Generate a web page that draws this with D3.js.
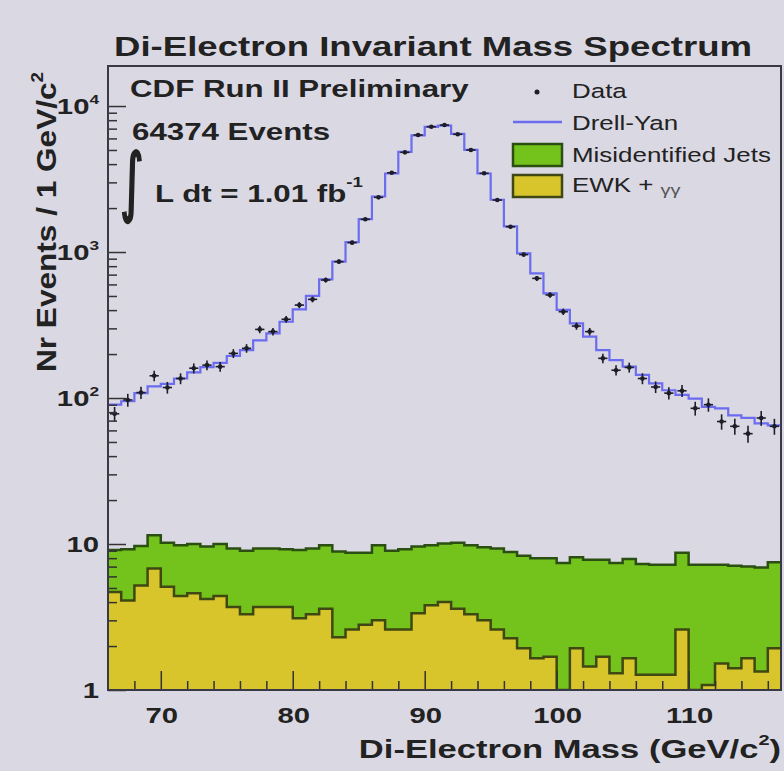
<!DOCTYPE html>
<html>
<head>
<meta charset="utf-8">
<script src="https://cdn.jsdelivr.net/npm/d3@7"></script>
<style>
body { margin: 0; background: #dad8e2; }
svg { display: block; font-family: "Liberation Sans", Arial, Helvetica, sans-serif; }
</style>
</head>
<body>
<script>
// 1 GeV bins, lower edge of each bin
const binLow = [66,67,68,69,70,71,72,73,74,75,76,77,78,79,80,81,82,83,84,85,86,87,88,89,90,
  91,92,93,94,95,96,97,98,99,100,101,102,103,104,105,106,107,108,109,110,111,112,113,114,115,116];

const dataCounts = [78,97,109,142,118,136,160,168,164,202,219,295,285,346,433,474,643,859,1159,1675,
  2368,3490,4815,6330,7220,7410,6400,5000,3460,2270,1490,960,660,508,390,311,285,187,155,162,
  136,119,108,112,85,90,69,64,57,73,64];

const drellYan = [90,95,108,120,125,136,150,163,174,194,213,248,277,333,405,500,650,860,1170,1680,
  2400,3450,4850,6300,7200,7350,6450,5000,3450,2280,1500,980,715,521,401,325,263,213,182,164,
  144,126,113,105,99,87,85,76,73,67,65];

const ewk = [4.7,4.1,5.2,6.8,5.1,4.4,4.6,4.2,4.4,3.7,3.3,3.7,3.7,3.7,3.1,3.3,3.6,2.3,2.6,2.8,
  3.0,2.6,2.6,3.35,3.8,4.0,3.6,3.3,3.0,2.6,2.26,1.93,1.65,1.69,0,1.93,1.45,1.69,1.30,1.65,
  1.27,1.27,1.27,2.6,0,1.08,1.52,1.41,1.65,1.34,1.93];

const misidJets = [4.4,5.1,4.5,4.7,5.1,5.4,5.4,5.4,5.6,5.6,5.7,5.6,5.6,5.5,6.0,6.0,6.2,6.6,6.1,5.9,
  6.8,6.4,6.6,6.25,6.0,6.1,6.6,6.5,6.5,6.7,6.54,6.37,6.35,6.31,7.4,6.17,6.35,6.11,6.1,6.25,
  6.03,5.93,5.93,6.1,7.2,6.12,5.68,5.69,5.35,5.56,5.57];

const xMajor = [70, 80, 90, 100, 110];
const xMinor = [68, 72, 74, 76, 78, 82, 84, 86, 88, 92, 94, 96, 98, 102, 104, 106, 108, 112, 114, 116];
const yMajor = [1, 10, 100, 1000, 10000];
const yTickBase = ['1', '10', '10', '10', '10'];
const yTickExp = ['', '', '2', '3', '4'];

const W = 784, H = 771;
const L = 108, R = 781, T = 66, B = 690;
const SX = 1.33; // the photo is stretched sideways

const svg = d3.select('body').append('svg').attr('width', W).attr('height', H);
svg.append('rect').attr('width', W).attr('height', H).attr('fill', '#dad8e2');

const x = d3.scaleLinear().domain([66, 117]).range([L, R]);
const y = d3.scaleLog().domain([1, 18800]).range([B, T]);
const yv = v => y(Math.max(v, 1));

svg.append('defs').append('clipPath').attr('id', 'plotclip')
  .append('rect').attr('x', L).attr('y', T).attr('width', R - L).attr('height', B - T);
const plot = svg.append('g').attr('clip-path', 'url(#plotclip)');

const rows = binLow.map((m, i) => ({ m, ewk: ewk[i], misid: misidJets[i] }));
const stacked = d3.stack().keys(['ewk', 'misid'])(rows);

function steps(vals) {
  const pts = binLow.map((m, i) => [m, vals[i]]);
  pts.push([x.domain()[1], vals[vals.length - 1]]);
  return pts;
}
const area = d3.area().curve(d3.curveStepAfter).x(d => x(d[0])).y0(B).y1(d => yv(d[1]));
const line = d3.line().curve(d3.curveStepAfter).x(d => x(d[0])).y(d => yv(d[1]));

const totalTop = steps(stacked[1].map(d => d[1]));
const ewkTop = steps(stacked[0].map(d => d[1]));

plot.append('path').attr('d', area(totalTop)).attr('fill', '#74c21c');
plot.append('path').attr('d', area(ewkTop)).attr('fill', '#d8c52c');
plot.append('path').attr('d', line(totalTop)).attr('fill', 'none').attr('stroke', '#2b4f12').attr('stroke-width', 2.5);
plot.append('path').attr('d', line(ewkTop)).attr('fill', 'none').attr('stroke', '#3f4712').attr('stroke-width', 2.5);

// Drell-Yan
plot.append('path').attr('d', line(steps(drellYan)))
  .attr('fill', 'none').attr('stroke', '#6b6cf0').attr('stroke-width', 2.2);

// data points
const pts = plot.selectAll('.dot').data(binLow.map((m, i) => ({ m, n: dataCounts[i] })))
  .enter().append('g').attr('class', 'dot');
pts.append('line')
  .attr('x1', d => x(d.m + 0.5)).attr('x2', d => x(d.m + 0.5))
  .attr('y1', d => yv(d.n - Math.sqrt(d.n))).attr('y2', d => yv(d.n + Math.sqrt(d.n)))
  .attr('stroke', '#1d1d2a').attr('stroke-width', 1.6);
pts.append('line')
  .attr('x1', d => x(d.m + 0.15)).attr('x2', d => x(d.m + 0.85))
  .attr('y1', d => yv(d.n)).attr('y2', d => yv(d.n))
  .attr('stroke', '#1d1d2a').attr('stroke-width', 1.6);
pts.append('circle').attr('cx', d => x(d.m + 0.5)).attr('cy', d => yv(d.n)).attr('r', 2.3).attr('fill', '#1d1d2a');

// ticks (inside the frame)
const axisCol = '#333';
const gx = svg.append('g').attr('transform', `translate(0,${B})`)
  .call(d3.axisBottom(x).tickValues(xMajor).tickSize(-19).tickFormat(''));
const gx2 = svg.append('g').attr('transform', `translate(0,${B})`)
  .call(d3.axisBottom(x).tickValues(xMinor).tickSize(-9).tickFormat(''));
const yMinor = y.ticks().filter(v => !yMajor.includes(v));
const gy = svg.append('g').attr('transform', `translate(${L},0)`)
  .call(d3.axisLeft(y).tickValues(yMajor).tickSize(-18).tickFormat(''));
const gy2 = svg.append('g').attr('transform', `translate(${L},0)`)
  .call(d3.axisLeft(y).tickValues(yMinor).tickSize(-9).tickFormat(''));
[gx, gx2, gy, gy2].forEach(g => {
  g.select('.domain').remove();
  g.selectAll('line').attr('stroke', axisCol).attr('stroke-width', 1.5);
});

svg.append('rect').attr('x', L).attr('y', T).attr('width', R - L).attr('height', B - T)
  .attr('fill', 'none').attr('stroke', '#3a3a44').attr('stroke-width', 2);

// text helper, stretched sideways like the photo
function txt(px, py, size, weight, anchor) {
  return svg.append('g').attr('transform', `translate(${px},${py}) scale(${SX},1)`)
    .append('text').attr('font-size', size).attr('font-weight', weight)
    .attr('text-anchor', anchor || 'start').attr('fill', '#222');
}

// tick labels
xMajor.forEach(v => txt(x(v) + 1, 723, 22, 'bold', 'middle').text(v));
yMajor.forEach((v, i) => {
  const t = txt(99, y(v) + 8, 22, 'bold', 'end');
  t.append('tspan').text(yTickBase[i]);
  if (yTickExp[i]) t.append('tspan').attr('dy', -10).attr('font-size', 13).text(yTickExp[i]);
});

// titles
txt(433, 56, 27.5, 'bold', 'middle').text('Di-Electron Invariant Mass Spectrum');
const xl = txt(781, 758, 26, 'bold', 'end');
xl.append('tspan').text('Di-Electron Mass (GeV/c');
xl.append('tspan').attr('dy', -13).attr('font-size', 15).text('2');
xl.append('tspan').attr('dy', 13).text(')');

const yl = svg.append('text').attr('transform', 'translate(56,222) rotate(-90)')
  .attr('text-anchor', 'middle').attr('font-size', 27).attr('font-weight', 'bold').attr('fill', '#222')
  .attr('textLength', 300).attr('lengthAdjust', 'spacingAndGlyphs');
yl.append('tspan').text('Nr Events / 1 GeV/c');
yl.append('tspan').attr('dy', -13).attr('font-size', 16).text('2');

// labels inside the frame
txt(130, 97, 23.5, 'bold').text('CDF Run II Preliminary');
txt(132, 140, 23.5, 'bold').text('64374 Events');
svg.append('text').attr('transform', 'translate(120,207) scale(0.9,1.5)')
  .attr('font-family', 'DejaVu Sans').attr('font-size', 50).attr('fill', '#222')
  .attr('stroke', '#222').attr('stroke-width', 1.6).text('\u222B');
const lum = txt(155, 202, 23.5, 'bold');
lum.append('tspan').text('L dt = 1.01 fb');
lum.append('tspan').attr('dy', -15).attr('font-size', 14).text('-1');

// legend
svg.append('circle').attr('cx', 537).attr('cy', 92).attr('r', 2.5).attr('fill', '#1d1d2a');
txt(572, 98, 19.5, 'normal').text('Data');
svg.append('line').attr('x1', 513).attr('x2', 562).attr('y1', 122).attr('y2', 122)
  .attr('stroke', '#6b6cf0').attr('stroke-width', 2.5);
txt(572, 130, 19.5, 'normal').text('Drell-Yan');
svg.append('rect').attr('x', 513).attr('y', 144).attr('width', 49).attr('height', 22)
  .attr('fill', '#74c21c').attr('stroke', '#2b4f12').attr('stroke-width', 2.5);
txt(572, 162, 19.5, 'normal').text('Misidentified Jets');
svg.append('rect').attr('x', 513).attr('y', 175).attr('width', 49).attr('height', 22)
  .attr('fill', '#d8c52c').attr('stroke', '#3f4712').attr('stroke-width', 2.5);
const ewkLab = txt(572, 192, 19.5, 'normal');
ewkLab.append('tspan').text('EWK + ');
ewkLab.append('tspan').attr('font-size', 15).attr('dy', 3).attr('fill', '#555').text('\u03B3\u03B3');
</script>
</body>
</html>
